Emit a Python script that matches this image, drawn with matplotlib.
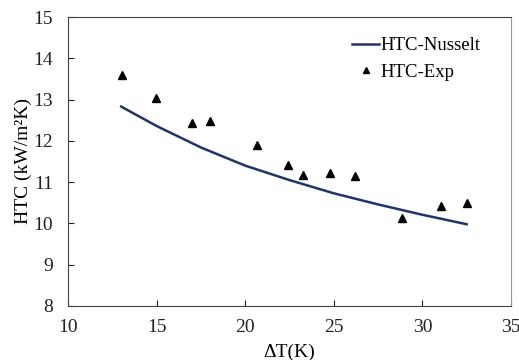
import matplotlib
matplotlib.use("Agg")
import matplotlib.pyplot as plt

# Nusselt correlation curve
dt_nusselt = [13.0, 15.0, 17.5, 20.0, 22.5, 25.0, 27.5, 30.0, 32.5]
htc_nusselt = [12.83, 12.36, 11.84, 11.40, 11.05, 10.73, 10.46, 10.21, 9.98]

# experimental points
dt_exp = [13.03, 14.97, 17.02, 18.01, 20.68, 22.43, 23.28, 24.77, 26.2, 28.87, 31.05, 32.5]
htc_exp = [13.60, 13.05, 12.43, 12.47, 11.89, 11.42, 11.17, 11.21, 11.16, 10.13, 10.42, 10.49]

plt.rcParams['font.family'] = ['Liberation Serif', 'DejaVu Serif']

fig = plt.figure(figsize=(5.19, 3.6), dpi=100)
ax = fig.add_axes([68 / 519, 1 - 306 / 360, (511 - 68) / 519, (306 - 17) / 360])

ax.plot(dt_nusselt, htc_nusselt, color='#1f3566', lw=1.8, label='HTC-Nusselt')
ax.plot(dt_exp, htc_exp, ls='none', marker='^', color='black', ms=5.8, label='HTC-Exp')

ax.set_xlim(10, 35)
ax.set_ylim(8, 15)
ax.set_xticks([10, 15, 20, 25, 30, 35])
ax.set_yticks(range(8, 16))
ax.tick_params(direction='in', length=4, labelsize=14, colors='#222222', width=0.8)
ax.tick_params(axis='x', pad=9)
ax.tick_params(axis='y', pad=11)
for s in ['left', 'bottom', 'top']:
    ax.spines[s].set_color('#444444')
ax.spines['right'].set_color('#999999')

ax.set_xlabel('ΔT(K)', fontsize=14, labelpad=6)
ax.set_ylabel('HTC (kW/m²K)', fontsize=14, labelpad=1)

ax.legend(loc='upper right', frameon=False, fontsize=13.5, handlelength=1.45,
          handletextpad=0.05, labelspacing=0.5, borderaxespad=0.6,
          markerscale=0.8, bbox_to_anchor=(0.973, 0.995))

fig.savefig('out.png', dpi=100)
